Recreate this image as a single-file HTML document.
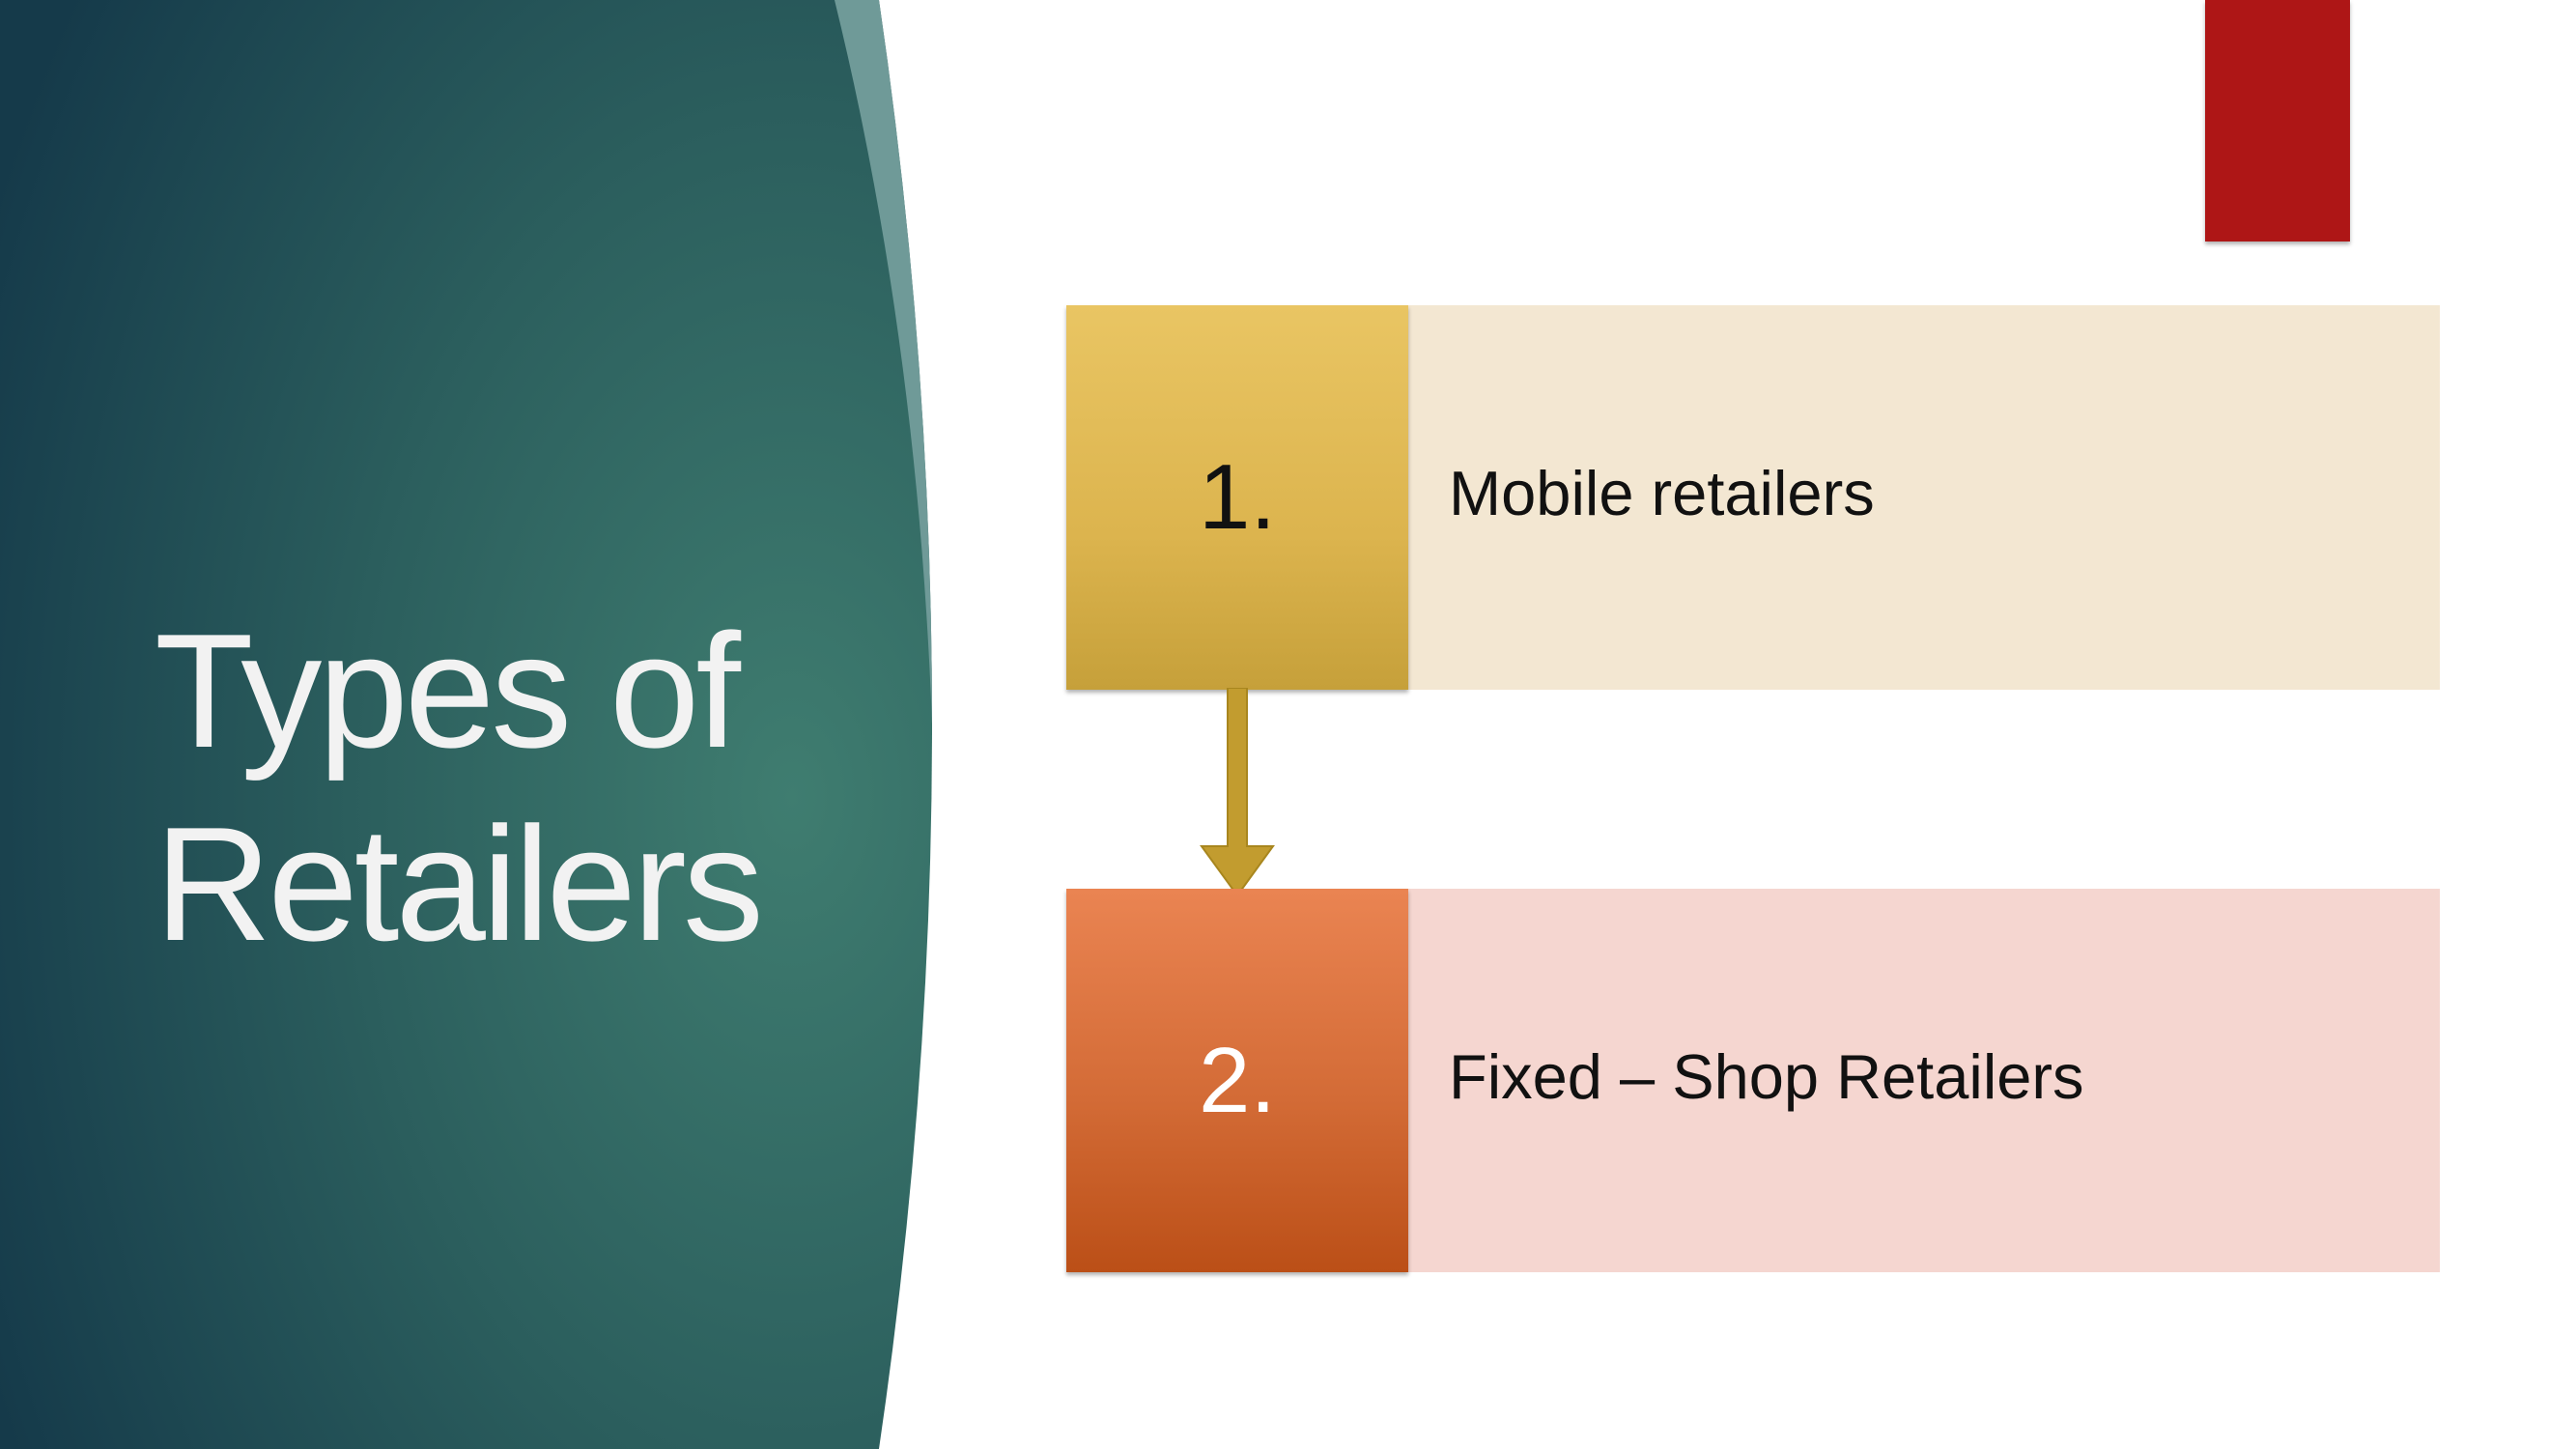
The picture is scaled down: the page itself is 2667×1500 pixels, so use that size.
<!DOCTYPE html>
<html><head><meta charset="utf-8"><style>
html,body{margin:0;padding:0;}
body{width:2667px;height:1500px;position:relative;overflow:hidden;background:#fff;font-family:"Liberation Sans",sans-serif;}
.abs{position:absolute;}
</style></head><body>
<svg class="abs" style="left:0;top:0" width="1000" height="1500">
<defs>
<radialGradient id="g" cx="0.85" cy="0.55" r="0.95">
<stop offset="0" stop-color="#3f7d70"/>
<stop offset="0.5" stop-color="#2b5e5d"/>
<stop offset="1" stop-color="#153a4a"/>
</radialGradient>
</defs>
<path d="M0 0 L910 0 Q1020 750 910 1500 L0 1500 Z" fill="url(#g)"/>
<path d="M864 0 L910 0 Q965 375 965 750 Q950 350 864 0 Z" fill="#6f9a98"/>
</svg>
<div class="abs" style="left:160px;top:615px;color:#f2f2f2;font-size:168px;line-height:200px;letter-spacing:-4px;">Types of<br>Retailers</div>
<div class="abs" style="left:2283px;top:0;width:150px;height:250px;background:#ae1616;box-shadow:0 3px 4px rgba(0,0,0,0.3);"></div>

<div class="abs" style="left:1458px;top:316px;width:1068px;height:398px;background:#f3e7d2;"></div>
<div class="abs" style="left:1104px;top:316px;width:354px;height:398px;background:linear-gradient(#e9c563,#dcb44e 60%,#c6a03a);box-shadow:0 3px 4px rgba(0,0,0,0.3);display:flex;align-items:center;justify-content:center;font-size:96px;color:#111;">1.</div>
<div class="abs" style="left:1500px;top:473px;font-size:65px;color:#111;">Mobile retailers</div>

<svg class="abs" style="left:1240px;top:712px" width="90" height="220">
<path d="M31 0 L51 0 L51 164 L78 164 L41 215 L4 164 L31 164 Z" fill="#c29c2f" stroke="#a8861e" stroke-width="2"/>
</svg>

<div class="abs" style="left:1458px;top:920px;width:1068px;height:397px;background:#f5d6d0;"></div>
<div class="abs" style="left:1104px;top:920px;width:354px;height:397px;background:linear-gradient(#ea8452,#d36b36 55%,#bb4f17);box-shadow:0 3px 4px rgba(0,0,0,0.3);display:flex;align-items:center;justify-content:center;font-size:96px;color:#fff;">2.</div>
<div class="abs" style="left:1500px;top:1077px;font-size:65px;color:#111;">Fixed – Shop Retailers</div>
</body></html>
